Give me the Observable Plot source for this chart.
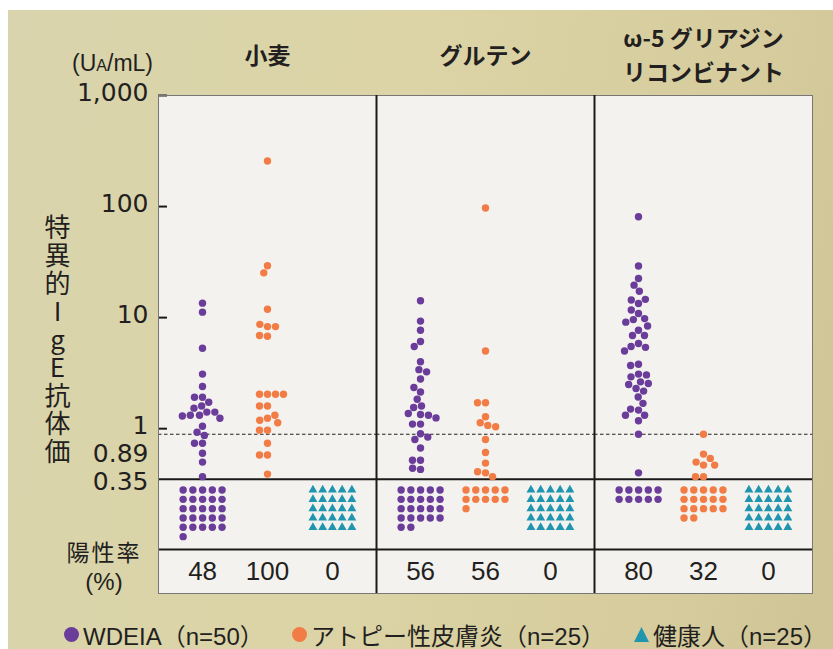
<!DOCTYPE html>
<html><head><meta charset="utf-8">
<script src="https://cdn.jsdelivr.net/npm/d3@7"></script>
<script src="https://cdn.jsdelivr.net/npm/@observablehq/plot@0.6"></script>
<style>
html,body{margin:0;padding:0;background:#fff;}
#wrap{position:relative;width:833px;height:649px;overflow:hidden;font-family:"Liberation Sans","Noto Sans CJK JP",sans-serif;color:#231f20;}
#bg{position:absolute;left:8px;top:10px;right:0;bottom:0;background:linear-gradient(100deg,#d9d4ad 0%,#dcd4a6 45%,#d6cc9d 80%,#cfc495 100%);}
#chart{position:absolute;left:0;top:0;}
#unit{position:absolute;right:680px;top:50px;font-size:23px;white-space:nowrap;}
#unit span{font-size:16px;}
#ylabel{position:absolute;left:44px;top:214px;writing-mode:vertical-rl;text-orientation:upright;font-family:"Noto Sans CJK JP",sans-serif;font-size:26px;line-height:1;letter-spacing:2px;}
.rl{position:absolute;left:56px;width:96px;text-align:center;line-height:1;}
.leg{position:absolute;top:617px;font-size:24px;white-space:nowrap;display:flex;align-items:center;font-family:"Liberation Sans","Noto Sans CJK JP",sans-serif;}
.mk{display:inline-block;width:15px;height:15px;margin-right:4px;}
</style></head><body>
<div id="wrap">
<div id="bg"></div>
<div id="chart"></div>
<div id="unit">(U<span>A</span>/mL)</div>
<div id="ylabel">特異的IgE抗体価</div>
<div class="rl" style="top:540px;font-size:23px;letter-spacing:2px;font-family:'Noto Sans CJK JP',sans-serif;">陽性率</div>
<div class="rl" style="top:570px;font-size:24px;font-family:'Liberation Sans',sans-serif;">(%)</div>
</div>
<script>
// ---------------- data ----------------
const panels = ["wheat", "gluten", "omega5"];
const panelTitles = ["小麦", "グルテン", "ω-5 グリアジン\nリコンビナント"];
const groups = ["WDEIA", "アトピー性皮膚炎", "健康人"];
const groupN = [50, 25, 25];
const groupColors = ["#6a3d9a", "#f27c45", "#1f95b0"];
const yTickValues = [1000, 100, 10, 1, 0.35];
const yTickLabels = ["1,000", "100", "10", "1", "0.35"];
const cutoffLine = 0.35;
const dashedLine = 0.89;
const positiveRates = [48, 100, 0, 56, 56, 0, 80, 32, 0];
// positive values (UA/mL)
const wheatWDEIA = [13.5, 11.2, 5.3, 3.1, 2.4, 1.92, 1.92, 1.73, 1.6, 1.53, 1.41, 1.41, 1.32, 1.32, 1.24, 1.3, 1.05, 0.93, 0.87, 0.74, 0.74, 0.60, 0.50, 0.37];
const wheatAtopic = [257, 29.3, 25.3, 11.9, 8.3, 8.7, 8.3, 6.8, 6.9, 2.04, 2.04, 2.04, 2.04, 1.6, 1.6, 1.24, 1.19, 1.32, 1.13, 0.97, 0.97, 0.74, 0.58, 0.58, 0.39];
const glutenWDEIA = [14.2, 9.3, 7.7, 6.1, 5.5, 4.0, 3.4, 3.25, 2.8, 2.14, 2.35, 1.84, 1.6, 1.55, 1.34, 1.32, 1.37, 1.25, 1.1, 1.1, 0.90, 0.80, 0.84, 0.67, 0.52, 0.52, 0.43, 0.44];
const glutenAtopic = [97, 5.0, 1.71, 1.71, 1.28, 1.13, 1.07, 1.04, 0.80, 0.61, 0.49, 0.40, 0.41, 0.37];
const omegaWDEIA = [81, 29.2, 22.5, 19.6, 17.3, 13.4, 14.4, 14.6, 10.9, 11.7, 9.6, 9.8, 9.1, 7.7, 8.4, 6.9, 6.9, 5.85, 5.5, 5.4, 5.0, 3.8, 3.7, 3.1, 2.93, 3.05, 2.64, 2.55, 2.5, 2.3, 2.18, 1.93, 1.69, 1.47, 1.5, 1.32, 1.32, 1.18, 0.89, 0.40];
const omegaAtopic = [0.89, 0.59, 0.47, 0.50, 0.54, 0.47, 0.37, 0.37];
const healthy = [];

// ---------------- layout ----------------
const W = 833, H = 649, mL = 157, mR = 21, mT = 95, mB = 56;
const yLo = 0.0328;
const decadePx = (H - mT - mB) / (3 - Math.log10(yLo));
const valueAtPx = (py) => Math.pow(10, 3 - (py - mT) / decadePx);
const facetW = (W - mL - mR) / 3;
const groupStepPx = 65;
const xHalf = facetW / groupStepPx / 2;
const xMin = 1 - xHalf;
const gridColStep = 9.75 / groupStepPx;
const gridTopPx = 489.5, gridRowPx = 9.33;
const rateLinePx = 549, rateTextPx = 571;
const dotR = 3.7;

// ---------------- build tables ----------------
const positives = {
  wheat: [wheatWDEIA, wheatAtopic, healthy],
  gluten: [glutenWDEIA, glutenAtopic, healthy],
  omega5: [omegaWDEIA, omegaAtopic, healthy]
};
const points = [], grid = [], rates = [];
panels.forEach((p, pi) => {
  groups.forEach((gname, gi) => {
    const vals = positives[p][gi];
    vals.forEach(v => points.push({panel: p, g: gi, value: v}));
    const neg = groupN[gi] - vals.length;
    for (let i = 0; i < neg; i++) grid.push({panel: p, g: gi, col: i % 5, row: Math.floor(i / 5)});
    rates.push({panel: p, g: gi, rate: positiveRates[pi * 3 + gi]});
  });
});
const yLabelRows = yTickValues.map((v, i) => ({panel: panels[0], v, label: yTickLabels[i]}));

const ink = "#231f20";
const tickFont = {fontSize: 25, fontFamily: "DejaVu Sans", fill: ink, frameAnchor: "left", textAnchor: "end", dx: -10};
const chart = Plot.plot({
  width: W, height: H,
  marginLeft: mL, marginRight: mR, marginTop: mT, marginBottom: mB,
  style: {background: "transparent", color: ink, fontFamily: "Liberation Sans, Noto Sans CJK JP, sans-serif"},
  fx: {domain: panels, padding: 0},
  x: {domain: [xMin, 1 + xHalf], axis: null},
  y: {type: "log", domain: [yLo, 1000], axis: null},
  marks: [
    Plot.frame({fill: "#f3f2ee"}),
    Plot.ruleY([dashedLine], {stroke: "#222", strokeWidth: 1.1, strokeDasharray: "3.5,2.5"}),
    Plot.ruleY([cutoffLine], {stroke: "#1a1a1a", strokeWidth: 2}),
    Plot.ruleY([valueAtPx(rateLinePx)], {stroke: "#1a1a1a", strokeWidth: 2}),
    Plot.ruleY(yLabelRows.slice(0, 4), {fx: "panel", y: "v", x1: () => xMin, x2: () => xMin + 9 / groupStepPx, stroke: "#1a1a1a", strokeWidth: 2}),
    // beeswarm of positive values
    ...[0, 1].map(gi => Plot.dot(points.filter(d => d.g === gi), Plot.dodgeX({anchor: "middle", padding: 0.6}, {
      fx: "panel", y: "value", r: dotR, fill: groupColors[gi], dx: (gi - 1) * groupStepPx
    }))),
    // negatives drawn as grid
    Plot.dot(grid.filter(d => d.g < 2), {fx: "panel", x: d => d.g + (d.col - 2) * gridColStep, y: d => valueAtPx(gridTopPx + d.row * gridRowPx), r: dotR, fill: d => groupColors[d.g]}),
    Plot.dot(grid.filter(d => d.g === 2), {fx: "panel", x: d => d.g + (d.col - 2) * gridColStep, y: d => valueAtPx(gridTopPx + d.row * gridRowPx), r: 3.3, symbol: "triangle", fill: groupColors[2]}),
    // positive rates
    Plot.text(rates, {fx: "panel", x: "g", y: () => valueAtPx(rateTextPx), text: d => String(d.rate), fontSize: 26, fill: ink}),
    Plot.frame({stroke: "#777", strokeWidth: 1}),
    Plot.ruleX(panels.slice(1), {fx: d => d, x: () => xMin, stroke: "#1a1a1a", strokeWidth: 2}),
    // y tick labels
    Plot.text(yLabelRows.slice(0, 4), {fx: "panel", y: "v", text: "label", ...tickFont, dy: -3}),
    Plot.text(yLabelRows.slice(4), {fx: "panel", y: "v", text: "label", ...tickFont, dy: 3}),
    Plot.text([{panel: panels[0], v: dashedLine}], {fx: "panel", y: "v", text: d => String(d.v), ...tickFont, dy: 20}),
    Plot.axisFx({anchor: "top", tickSize: 0, tickPadding: 0, tickFormat: p => panelTitles[panels.indexOf(p)], fontSize: 23, fontWeight: "bold", fontFamily: "Noto Sans CJK JP, sans-serif", lineAnchor: "middle", lineHeight: 1.46, dy: -42, fill: ink, label: null})
  ]
});
document.getElementById("chart").appendChild(chart);

// legend
const wrap = document.getElementById("wrap");
const legLeft = [64, 292, 634];
groups.forEach((g, gi) => {
  const item = document.createElement("div");
  item.className = "leg";
  item.style.left = legLeft[gi] + "px";
  const mk = document.createElement("span");
  mk.className = "mk";
  mk.style.background = groupColors[gi];
  if (gi < 2) mk.style.borderRadius = "50%";
  else mk.style.clipPath = "polygon(50% 0,100% 100%,0 100%)";
  item.appendChild(mk);
  const t = document.createElement("span");
  t.textContent = g + "（n=" + groupN[gi] + "）";
  item.appendChild(t);
  wrap.appendChild(item);
});
</script>
</body></html>
